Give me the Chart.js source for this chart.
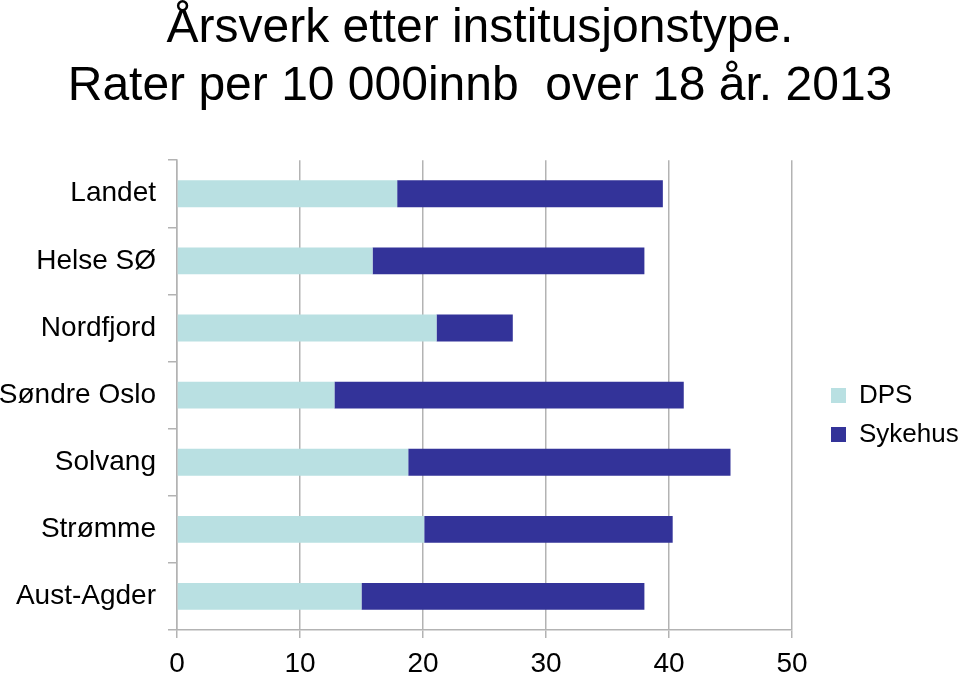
<!DOCTYPE html>
<html>
<head>
<meta charset="utf-8">
<script src="https://cdn.jsdelivr.net/npm/chart.js@4/dist/chart.umd.min.js"></script>
<style>
  html, body { margin: 0; padding: 0; background: #fff; }
  #wrap { width: 960px; height: 674px; }
</style>
</head>
<body>
<div id="wrap"><canvas id="chart"></canvas></div>
<script>
// verdier lest av bildet
const categories = ['Landet', 'Helse SØ', 'Nordfjord', 'Søndre Oslo', 'Solvang', 'Strømme', 'Aust-Agder'];
const dps = [17.9, 15.9, 21.1, 12.8, 18.8, 20.1, 15.0];
const sykehus = [21.6, 22.1, 6.2, 28.4, 26.2, 20.2, 23.0];
const xTicks = [0, 10, 20, 30, 40, 50];

const font = "'Liberation Sans', Arial, sans-serif";
const gridColor = '#b3b3b3';

// fast bredde paa legenden, og flytt den litt inn fra plottet
const legendBox = {
    id: 'legendBox',
    afterInit(chart) {
        const lg = chart.legend;
        if (!lg) return;
        const fit = lg.fit.bind(lg);
        lg.fit = function () {
            fit();
            this.width = 168;
        };
    },
    afterLayout(chart) {
        const lg = chart.legend;
        if (lg) {
            lg.left += 26;
            lg.right += 26;
            lg.top += 78;
            lg.bottom += 78;
        }
    }
};

const ctx = document.getElementById('chart');

new Chart(ctx, {
    type: 'bar',
    data: {
        labels: categories,
        datasets: [
            {
                label: 'DPS',
                data: dps,
                backgroundColor: '#b9e0e2',
                barPercentage: 0.4,
                categoryPercentage: 1
            },
            {
                label: 'Sykehus',
                data: sykehus,
                backgroundColor: '#333399',
                barPercentage: 0.4,
                categoryPercentage: 1
            }
        ]
    },
    plugins: [legendBox],
    options: {
        indexAxis: 'y',
        responsive: true,
        maintainAspectRatio: false,
        animation: false,
        layout: {
            padding: 0
        },
        plugins: {
            title: {
                display: true,
                text: ['Årsverk etter institusjonstype.', 'Rater per 10 000innb  over 18 år. 2013'],
                color: '#000',
                font: { family: font, size: 48, weight: 'normal', lineHeight: 1.2 },
                padding: { top: 0, bottom: 45 }
            },
            legend: {
                position: 'right',
                labels: {
                    color: '#000',
                    font: { family: font, size: 26 },
                    boxWidth: 15,
                    boxHeight: 15,
                    padding: 13
                }
            },
            tooltip: { enabled: false }
        },
        scales: {
            x: {
                stacked: true,
                min: 0,
                max: 50,
                afterBuildTicks: (scale) => {
                    scale.ticks = xTicks.map(v => ({ value: v }));
                },
                afterFit: (scale) => { scale.height = 44; },
                ticks: {
                    color: '#000',
                    font: { family: font, size: 28 },
                    padding: 9
                },
                grid: {
                    color: gridColor,
                    tickLength: 8,
                    lineWidth: 1.5
                },
                border: { color: gridColor, width: 1.5 }
            },
            y: {
                stacked: true,
                afterFit: (scale) => { scale.width = 177; },
                ticks: {
                    color: '#000',
                    font: { family: font, size: 28 },
                    padding: 12
                },
                grid: {
                    offset: true,
                    drawOnChartArea: false,
                    color: gridColor,
                    tickLength: 9,
                    lineWidth: 1.5
                },
                border: { color: gridColor, width: 1.5 }
            }
        }
    }
});
</script>
</body>
</html>
